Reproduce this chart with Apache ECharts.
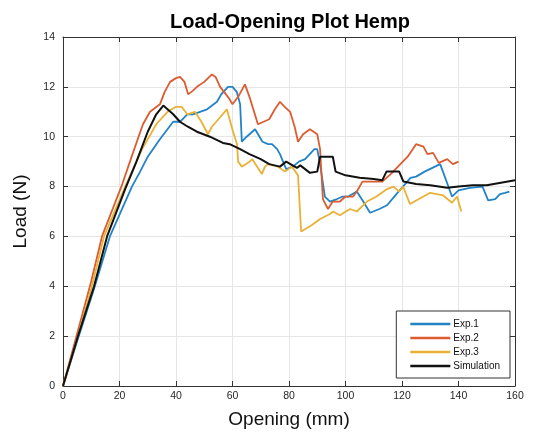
<!DOCTYPE html>
<html>
<head>
<meta charset="utf-8">
<script src="https://cdn.jsdelivr.net/npm/echarts@6/dist/echarts.min.js"></script>
<style>html,body{margin:0;padding:0;background:#fff;}#c{width:533px;height:441px;}</style>
</head>
<body>
<div id="c"></div>
<script>
const seriesNames = ['Exp.1', 'Exp.2', 'Exp.3', 'Simulation'];
const xTicks = [0, 20, 40, 60, 80, 100, 120, 140, 160];
const yTicks = [0, 2, 4, 6, 8, 10, 12, 14];

const exp1 = [[0,0],[5,1.8],[11,3.9],[16.6,6],[24.4,8],[27.3,8.6],[30,9.2],[34.3,9.9],[39,10.6],[41.4,10.6],[44,10.9],[46,10.9],[48.5,11.0],[51,11.1],[54.5,11.4],[56,11.7],[58.4,12.0],[60,12.0],[61.5,11.8],[62.7,11.3],[63.3,9.8],[65,10.0],[68,10.3],[70.6,9.8],[72.6,9.7],[74,9.7],[75.8,9.5],[76.8,9.3],[79,8.7],[81.4,8.8],[83.5,9.0],[85.7,9.1],[89,9.5],[90,9.5],[91,8.9],[92.7,7.6],[94.5,7.4],[97,7.5],[99,7.6],[101,7.6],[104,7.8],[106,7.45],[108.7,6.95],[112,7.1],[114.7,7.25],[118,7.7],[121.5,8.15],[123,8.35],[125,8.4],[128,8.6],[133.5,8.9],[134.5,8.6],[137.7,7.6],[140,7.85],[144,7.95],[148.5,8.0],[150.5,7.45],[153,7.5],[154.7,7.7],[156.5,7.75],[158,7.8]];

const exp2 = [[0,0],[5,2.1],[10,4.2],[13.8,6],[21,8.1],[24,9.1],[28.3,10.5],[30.8,11.0],[34.3,11.3],[36,11.8],[37.9,12.2],[40,12.35],[41.4,12.4],[43,12.2],[44.3,11.7],[46,11.85],[47.4,12.0],[50,12.2],[52.7,12.5],[54,12.4],[55.6,12.0],[57,11.8],[59,11.5],[60,11.3],[62,11.6],[64.4,12.1],[66,11.6],[69,10.5],[71,10.6],[73,10.7],[75,11.1],[76.8,11.4],[78.5,11.2],[80.4,11.0],[82,10.4],[83.2,9.8],[85,10.1],[87.4,10.3],[90,10.1],[91,9.5],[92,7.5],[93.8,7.1],[95.5,7.4],[98,7.4],[100,7.6],[102.7,7.6],[104,7.8],[106,8.2],[109,8.2],[113,8.2],[116,8.5],[119,8.85],[122,9.2],[125,9.7],[127.6,9.6],[129,9.3],[131,9.35],[133,8.95],[136,9.1],[138,8.9],[140,9.0]];

const exp3 = [[0,0],[5,1.9],[10,3.9],[14.5,6],[22,8],[28,9.5],[33,10.5],[37,11.0],[40,11.2],[42,11.2],[44,10.9],[46.7,11.0],[49,10.6],[51.3,10.1],[52.7,10.4],[55,10.7],[58,11.1],[60.2,10.2],[61.6,9.7],[62,9.0],[63.3,8.8],[66,9.0],[67,9.1],[70.4,8.5],[71.5,8.8],[72.6,8.9],[76,8.8],[78.6,8.6],[81,8.8],[83.2,8.45],[84.3,6.2],[88,6.45],[91,6.7],[94.5,6.9],[95.6,7.0],[98,6.85],[101.6,7.1],[104,7.0],[107.6,7.4],[111,7.6],[114.7,7.9],[117,8.0],[119,7.8],[120.4,8.0],[122.8,7.3],[126,7.5],[130,7.75],[134.5,7.65],[137.7,7.35],[139.5,7.6],[141,7.0]];

const simulation = [[0,0],[5.3,2],[11,4],[15.6,6],[22,7.9],[26,9.0],[30,10.2],[33,10.9],[35.5,11.25],[37,11.1],[39,10.9],[41.4,10.6],[44.2,10.4],[47.4,10.2],[52,10.0],[56.6,9.75],[59,9.7],[62.7,9.5],[66,9.3],[70,9.1],[73,8.9],[76.8,8.8],[79,9.0],[82.8,8.75],[84,8.85],[87.4,8.55],[90,8.6],[91,9.2],[95.5,9.2],[96.5,8.6],[100,8.45],[105,8.35],[110,8.3],[113,8.25],[114.5,8.6],[119,8.6],[120.5,8.2],[125,8.1],[130,8.05],[136,7.95],[140,8.0],[145,8.05],[150,8.05],[155,8.15],[160,8.25]];

const colors = ['#2283c6', '#dc5c32', '#e9b236', '#111111'];
const dataSets = [exp1, exp2, exp3, simulation];
const FONT = 'Liberation Sans, Arial, sans-serif';

const chart = echarts.init(document.getElementById('c'), null, {renderer: 'canvas'});
const axisCommon = {
  type: 'value',
  axisLine: {show: true, onZero: false, lineStyle: {color: '#333333', width: 1}},
  axisTick: {show: true, inside: true, length: 5, lineStyle: {color: '#333333'}},
  splitLine: {show: false},
};
chart.setOption({
  animation: false,
  backgroundColor: '#ffffff',
  color: colors,
  title: {
    text: 'Load-Opening Plot Hemp',
    left: 285, top: 7, textAlign: 'center',
    textStyle: {fontFamily: FONT, fontSize: 20, fontWeight: 'bold', color: '#000'}
  },
  grid: {left: 63, right: 18, top: 37, bottom: 55, containLabel: false},
  legend: {
    data: seriesNames.map(n => ({name: n, icon: 'rect'})),
    orient: 'vertical',
    right: 23, bottom: 63,
    itemWidth: 40, itemHeight: 2.5, itemGap: 4,
    padding: [8, 10, 7, 14],
    backgroundColor: '#fff',
    borderColor: '#333', borderWidth: 1,
    textStyle: {fontFamily: FONT, fontSize: 10, color: '#111', padding: [0, 0, 0, -2]}
  },
  xAxis: [
    Object.assign({}, axisCommon, {
      position: 'bottom', min: 0, max: 160, interval: 20,
      name: 'Opening (mm)', nameLocation: 'middle', nameGap: 24,
      nameTextStyle: {fontFamily: FONT, fontSize: 19, color: '#111'},
      axisLabel: {fontFamily: FONT, fontSize: 10.5, color: '#262626', margin: 5},
      splitLine: {show: true, lineStyle: {color: '#e6e6e6', width: 1}}
    }),
    Object.assign({}, axisCommon, {position: 'top', min: 0, max: 160, interval: 20, axisLabel: {show: false}})
  ],
  yAxis: [
    Object.assign({}, axisCommon, {
      position: 'left', min: 0, max: 14, interval: 2,
      name: 'Load (N)', nameLocation: 'middle', nameGap: 33,
      nameTextStyle: {fontFamily: FONT, fontSize: 19, color: '#111'},
      axisLabel: {fontFamily: FONT, fontSize: 10.5, color: '#262626', margin: 8},
      splitLine: {show: true, lineStyle: {color: '#e6e6e6', width: 1}}
    }),
    Object.assign({}, axisCommon, {position: 'right', min: 0, max: 14, interval: 2, axisLabel: {show: false}})
  ],
  series: seriesNames.map((n, i) => ({
    name: n, type: 'line', data: dataSets[i],
    symbol: 'none', showSymbol: false,
    lineStyle: {width: i === 3 ? 2 : 1.8, color: colors[i]},
    itemStyle: {color: colors[i]},
    z: i === 3 ? 5 : 2
  }))
});
</script>
</body>
</html>
